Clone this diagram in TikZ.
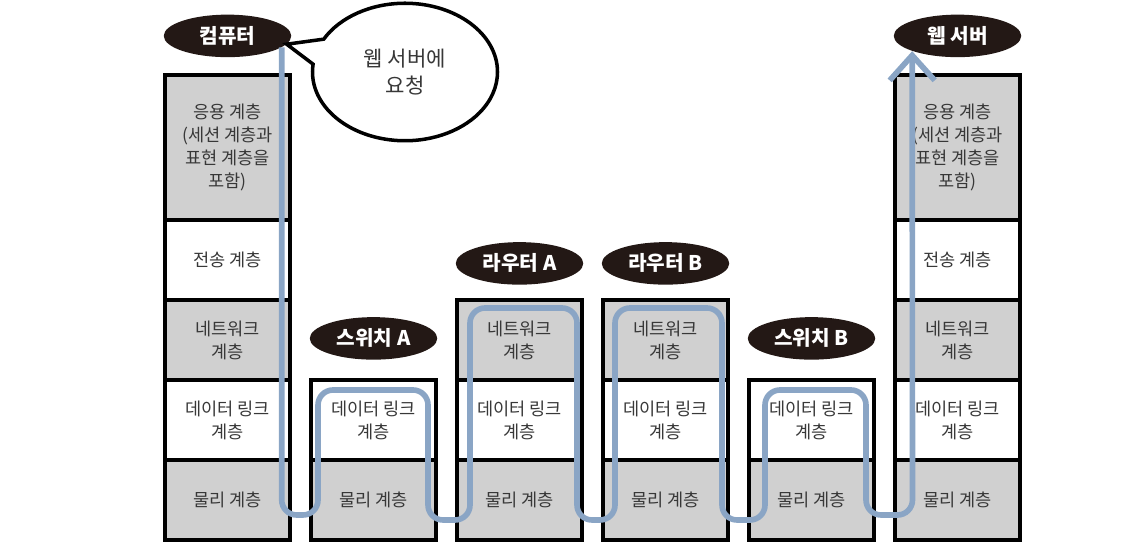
\documentclass[tikz,border=0pt]{standalone}
\usepackage{fontspec}
\setmainfont{Noto Sans CJK KR}
\usetikzlibrary{arrows.meta, positioning, shapes.geometric, shapes.callouts}
\definecolor{labelblack}{HTML}{231815}
\definecolor{layergray}{HTML}{D0D0D0}
\definecolor{routeblue}{HTML}{8AA5C5}
\definecolor{textgray}{HTML}{383838}
\tikzset{
    layer/.style={rectangle, draw=black, line width=2pt, fill=white, minimum width=2.5cm, minimum height=1.6cm, outer sep=0pt, inner sep=1pt, align=center, text=textgray, font=\fontsize{10}{13}\selectfont},
    graylayer/.style={layer, fill=layergray},
    whitelayer/.style={layer, fill=white},
    devlabel/.style={ellipse, fill=labelblack, text=white, minimum width=2.55cm, minimum height=0.85cm, inner sep=0pt, font=\fontsize{11.5}{13}\selectfont\bfseries},
    bubble/.style={ellipse callout, draw=black, line width=2pt, fill=white, minimum width=3.7cm, minimum height=2.75cm, callout pointer arc=22, align=center, text=textgray, font=\fontsize{12}{15}\selectfont},
    route/.style={-{Straight Barb[length=5mm, width=9mm]}, line width=3.2pt, draw=routeblue, rounded corners=0.3cm}
}

\begin{document}
\begin{tikzpicture}[node distance=0pt]
    \useasboundingbox (0,0) rectangle (22.86,11.2);
    % computer
    \node[graylayer] (pcphy) at (4.55,1.2) {물리 계층};
    \node[whitelayer, above=of pcphy] (pcdl) {데이터 링크\\계층};
    \node[graylayer, above=of pcdl] (pcnet) {네트워크\\계층};
    \node[whitelayer, above=of pcnet] (pctr) {전송 계층};
    \node[graylayer, above=of pctr, minimum height=2.9cm] (pcapp) {응용 계층\\(세션 계층과\\표현 계층을\\포함)};
    \node[devlabel, above=0.35cm of pcapp] (pc) {컴퓨터};
    % switch A
    \node[graylayer, right=0.42cm of pcphy] (swaphy) {물리 계층};
    \node[whitelayer, above=of swaphy] (swadl) {데이터 링크\\계층};
    \node[devlabel, above=0.4cm of swadl] (swa) {스위치 A};
    % router A
    \node[graylayer, right=0.42cm of swaphy] (rtaphy) {물리 계층};
    \node[whitelayer, above=of rtaphy] (rtadl) {데이터 링크\\계층};
    \node[graylayer, above=of rtadl] (rtanet) {네트워크\\계층};
    \node[devlabel, above=0.3cm of rtanet] (rta) {라우터 A};
    % router B
    \node[graylayer, right=0.42cm of rtaphy] (rtbphy) {물리 계층};
    \node[whitelayer, above=of rtbphy] (rtbdl) {데이터 링크\\계층};
    \node[graylayer, above=of rtbdl] (rtbnet) {네트워크\\계층};
    \node[devlabel, above=0.3cm of rtbnet] (rtb) {라우터 B};
    % switch B
    \node[graylayer, right=0.42cm of rtbphy] (swbphy) {물리 계층};
    \node[whitelayer, above=of swbphy] (swbdl) {데이터 링크\\계층};
    \node[devlabel, above=0.4cm of swbdl] (swb) {스위치 B};
    % web server
    \node[graylayer, right=0.42cm of swbphy] (wsphy) {물리 계층};
    \node[whitelayer, above=of wsphy] (wsdl) {데이터 링크\\계층};
    \node[graylayer, above=of wsdl] (wsnet) {네트워크\\계층};
    \node[whitelayer, above=of wsnet] (wstr) {전송 계층};
    \node[graylayer, above=of wstr, minimum height=2.9cm] (wsapp) {응용 계층\\(세션 계층과\\표현 계층을\\포함)};
    \node[devlabel, above=0.35cm of wsapp] (ws) {웹 서버};

    \node[bubble, callout absolute pointer={(pc.-8)}] (req) at (8.1,9.76) {웹 서버에\\요청};

    \draw[route] (pc.-12) |- (6.36,0.9) |- (8.56,3.4) |- (9.4,0.8) |- (11.54,5.04)
        |- (12.3,0.8) |- (14.44,5.04) |- (15.3,0.8) |- (17.32,3.4) |- (18.25,0.9) -- (ws.south west);
\end{tikzpicture}
\end{document}
